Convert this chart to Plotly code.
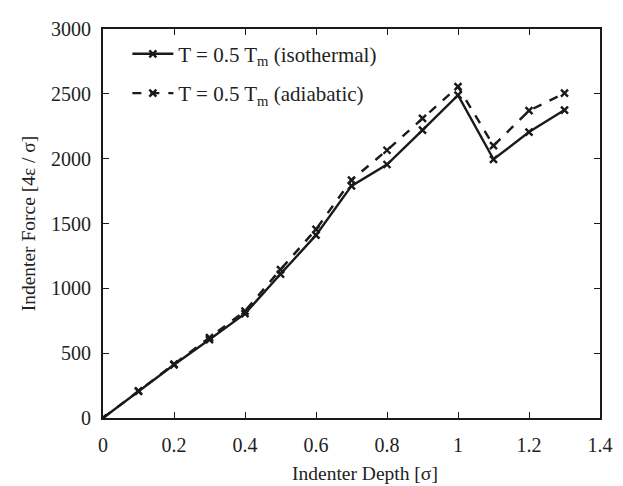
import plotly.graph_objects as go

depth = [0, 0.1, 0.2, 0.3, 0.4, 0.5, 0.6, 0.7, 0.8, 0.9, 1.0, 1.1, 1.2, 1.3]
force_iso = [0, 205, 410, 605, 805, 1110, 1410, 1790, 1955, 2220, 2490, 1995, 2205, 2375]
force_adi = [0, 210, 415, 620, 825, 1145, 1455, 1835, 2065, 2310, 2555, 2100, 2370, 2505]

names = ["T = 0.5 T<sub>m</sub> (isothermal)", "T = 0.5 T<sub>m</sub> (adiabatic)"]
x_title = "Indenter Depth [σ]"
y_title = "Indenter Force [4ε / σ]"

ink = "#1a1a1a"
fig = go.Figure()
fig.add_trace(go.Scatter(x=depth, y=force_iso, mode="lines+markers", name=names[0],
                         legendgroup="a",
                         line=dict(color=ink, width=2.4, dash="solid"),
                         marker=dict(symbol="x-thin", size=7, color=ink,
                                     line=dict(width=2.4, color=ink))))
fig.add_trace(go.Scatter(x=depth, y=force_adi, mode="lines+markers", name=names[1],
                         legendgroup="b",
                         line=dict(color=ink, width=2.4, dash="dash"),
                         marker=dict(symbol="x-thin", size=7, color=ink,
                                     line=dict(width=2.4, color=ink))))

fnt = dict(family="Liberation Serif", size=20, color="#222")
axis_common = dict(showline=True, linecolor=ink, linewidth=2, mirror="ticks",
                   ticks="inside", ticklen=6, tickcolor=ink, showgrid=False, zeroline=False,
                   tickfont=fnt)
fig.update_xaxes(range=[0, 1.4], dtick=0.2, tickformat="~g", ticklabelstandoff=8,
                 **axis_common)
fig.update_yaxes(range=[0, 3000], dtick=500, ticklabelstandoff=6,
                 title=dict(text=y_title, font=dict(family="Liberation Serif", size=19.5, color="#222"),
                            standoff=10),
                 **axis_common)

fig.add_annotation(text=x_title, xref="paper", yref="paper", x=0.528, y=-0.143,
                   xanchor="center", yanchor="middle", showarrow=False,
                   font=dict(family="Liberation Serif", size=19.5, color="#222"))

# page body has an 8px default margin; figure sized/margined to compensate
fig.update_layout(width=615, height=478, plot_bgcolor="white", paper_bgcolor="white",
                  margin=dict(l=95, r=14, t=10, b=68),
                  font=fnt,
                  legend=dict(x=0.049, y=0.988, xanchor="left", yanchor="top",
                              bgcolor="rgba(0,0,0,0)", borderwidth=0,
                              font=dict(family="Liberation Serif", size=21, color="#222"),
                              itemwidth=41, tracegroupgap=9))
fig.write_html("out.html")
